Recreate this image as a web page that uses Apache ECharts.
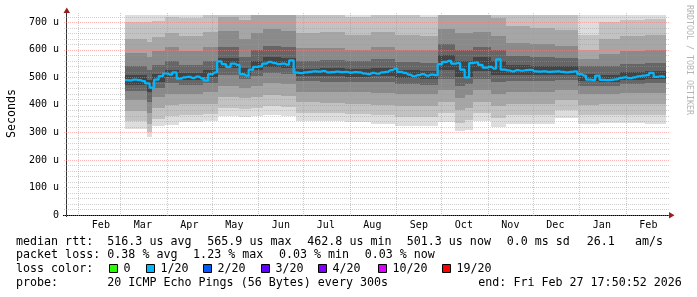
<!DOCTYPE html>
<html><head><meta charset="utf-8">
<script src="https://cdn.jsdelivr.net/npm/echarts@6/dist/echarts.min.js"></script>
<style>html,body{margin:0;padding:0;background:#fff}#c{width:697px;height:297px}</style>
</head><body><div id="c"></div>
<script>
// ---------- data ----------
const monthStarts = ['2025-02-01','2025-03-01','2025-04-01','2025-05-01','2025-06-01','2025-07-01','2025-08-01','2025-09-01','2025-10-01','2025-11-01','2025-12-01','2026-01-01','2026-02-01'];
const monthLabels = ['Feb','Mar','Apr','May','Jun','Jul','Aug','Sep','Oct','Nov','Dec','Jan','Feb'];
const yTickValues = [0,100,200,300,400,500,600,700];
const yTickLabels = ['0','100 u','200 u','300 u','400 u','500 u','600 u','700 u'];

const END_TIME = '2026-02-27T17:50:52Z';
const SPAN_DAYS = 400;
const DATA_START = '2025-03-04';
const MEDIAN_STEP_DAYS = 3;
// median rtt (us), one value every 3 days from DATA_START
const medianRtt = [490,489,492,490,486,478,463,492,505,514,
  510,518,495,500,502,498,503,496,488,512,
  518,558,548,538,550,545,512,506,528,538,
  540,550,556,552,548,550,546,562,517,515,
  518,520,522,521,523,518,519,521,519,520,
  517,519,518,514,512,516,513,518,520,526,
  532,520,516,510,504,508,512,506,510,508,
  548,556,560,550,552,528,500,552,554,545,
  535,538,532,565,528,525,522,526,524,526,
  527,522,521,522,520,521,522,520,518,520,
  522,512,506,492,490,506,491,490,491,493,
  498,500,497,500,504,506,508,516,502,504,
  501];

// smoke segments (day offsets from DATA_START)
const smokeEdgeDays = [0,15,18,27,36,52,62,76,84,92,104,114,130,147,164,180,197,209,220,227,232,244,254,270,287,302,316,330,347,360.74];
// smoke band edges (us), outer -> inner
const smokeLow1 = [312,285,322,328,338,340,358,355,360,362,360,342,340,337,330,322,324,338,305,310,340,318,330,330,352,332,335,333,330];
const smokeLow2 = [340,300,350,358,365,368,390,385,390,395,392,372,370,368,362,355,356,372,335,345,372,352,362,362,380,362,365,365,362];
const smokeLow3 = [378,330,388,398,402,405,430,425,430,435,432,410,408,405,400,395,396,412,380,390,412,395,402,402,418,400,402,405,402];
const smokeLow4 = [418,370,428,440,440,445,470,462,470,478,475,448,446,445,442,438,438,455,425,435,455,440,445,445,455,438,440,443,442];
const smokeLow5 = [452,410,462,478,472,480,510,495,505,515,512,485,484,482,482,475,474,495,470,475,495,482,485,485,490,470,470,475,478];
const smokeLow6 = [474,445,482,500,490,500,535,510,525,538,535,505,506,503,505,497,495,525,500,500,522,510,508,507,508,486,484,492,494];
const smokeHigh6 = [508,490,512,528,515,528,570,535,560,575,570,532,534,530,535,525,522,580,560,560,575,560,545,542,540,512,510,518,522];
const smokeHigh5 = [540,525,545,560,545,560,610,575,600,615,610,560,562,558,565,555,552,620,600,600,612,598,578,575,570,540,540,548,552];
const smokeHigh4 = [590,575,595,610,595,610,670,640,660,675,670,605,608,600,610,600,598,675,660,660,665,650,625,620,615,565,585,595,600];
const smokeHigh3 = [640,630,645,660,650,665,720,710,730,740,735,660,665,655,665,655,652,740,730,730,730,715,685,680,672,600,640,650,655];
const smokeHigh2 = [700,700,705,720,715,725,800,800,800,800,800,730,735,720,730,725,720,800,800,800,800,790,760,755,740,655,700,710,712];
const smokeHigh1 = [800,800,800,800,800,800,800,800,800,800,800,800,800,800,800,800,800,800,800,800,800,800,800,800,800,800,800,800,800];

const lossLabels = ['0','1/20','2/20','3/20','4/20','10/20','19/20'];
const lossColors = ['#26ff00','#00b8ff','#0059ff','#5e00ff','#7e00ff','#dd00ff','#ff0000'];

// ---------- build ----------
const DAY = 86400000;
const END_TS = Date.parse(END_TIME);
const START_TS = END_TS - SPAN_DAYS * DAY;
const D0 = Date.parse(DATA_START + 'T00:00:00Z');
const dayTs = d => D0 + d * DAY;
const YMAX = 726.5;
const G = {left: 66, top: 15, width: 600, height: 200};
const MONO = '"DejaVu Sans Mono", monospace';
const layerColors = ['#dddddd','#c2c2c2','#a6a6a6','#8a8a8a','#666666','#444444'];
const MGRID = 'rgba(255,120,120,0.55)';
const MINGRID = 'rgba(150,150,150,0.45)';

const lows = [smokeLow1,smokeLow2,smokeLow3,smokeLow4,smokeLow5,smokeLow6];
const highs = [smokeHigh1,smokeHigh2,smokeHigh3,smokeHigh4,smokeHigh5,smokeHigh6];
const smokeData = [];
for (let L = 0; L < 6; L++) {
  for (let s = 0; s < smokeEdgeDays.length - 1; s++) {
    smokeData.push([dayTs(smokeEdgeDays[s]), dayTs(smokeEdgeDays[s+1]), lows[L][s], highs[L][s], L]);
  }
}
const medianData = medianRtt.map((v, i) => [dayTs(i * MEDIAN_STEP_DAYS), v]);
const monthStartData = monthStarts.map(s => [Date.parse(s + 'T00:00:00Z'), 0]);
const monthLabelData = monthStarts.map((s, i) => [Date.parse(s + 'T00:00:00Z') + 15 * DAY, 0, i]);
const hgridData = [];
for (let v = 0; v <= 720; v += 20) hgridData.push([START_TS, v, v % 100 === 0 ? 1 : 0]);

function renderSmoke(params, api) {
  const cs = params.coordSys;
  const x0 = Math.round(api.coord([api.value(0), 0])[0]);
  const x1 = Math.round(api.coord([api.value(1), 0])[0]);
  let yLo = api.coord([api.value(0), api.value(2)])[1];
  let yHi = api.coord([api.value(0), api.value(3)])[1];
  yHi = Math.round(Math.max(yHi, cs.y));
  yLo = Math.round(Math.min(yLo, cs.y + cs.height));
  return {type: 'rect', shape: {x: x0, y: yHi, width: x1 - x0, height: yLo - yHi},
    style: {fill: layerColors[api.value(4)]}};
}
function renderHGrid(params, api) {
  const cs = params.coordSys;
  const y = Math.round(api.coord([api.value(0), api.value(1)])[1]) + 0.5;
  const major = api.value(2) === 1;
  return {type: 'line', shape: {x1: cs.x - 2, y1: y, x2: cs.x + cs.width + 3, y2: y},
    style: {stroke: major ? MGRID : MINGRID, lineWidth: 1, lineDash: [1, 1]}};
}
function renderVGrid(params, api) {
  const cs = params.coordSys;
  const x = Math.round(api.coord([api.value(0), 0])[0]) + 0.5;
  return {type: 'line', shape: {x1: x, y1: cs.y - 2, x2: x, y2: cs.y + cs.height + 2},
    style: {stroke: MGRID, lineWidth: 1, lineDash: [1, 1]}};
}
function renderMonthLabel(params, api) {
  const cs = params.coordSys;
  const x = api.coord([api.value(0), 0])[0];
  return {type: 'text', x: x, y: cs.y + cs.height + 10,
    style: {text: monthLabels[api.value(2)], font: '10px ' + MONO, fill: '#000', align: 'center', verticalAlign: 'middle'}};
}

const graphics = [];
const txt = (x, y, text, extra) => graphics.push(Object.assign({type: 'text', x: x, y: y, silent: true,
  style: {text: text, font: '11.66px ' + MONO, fill: '#000', align: 'left', verticalAlign: 'middle'}}, extra || {}));
// legend lines
txt(16, 241.5, 'median rtt:');
[['516.3 us avg',107.3],['565.9 us max',207.3],['462.8 us min',307.3],['501.3 us now',406.7],['0.0 ms sd',506.7],['26.1',586.7],['am/s',635]].forEach(p => txt(p[1], 241.5, p[0]));
txt(16, 255, 'packet loss:');
[['0.38 % avg',107.3],['1.23 % max',193.1],['0.03 % min',278.9],['0.03 % now',364.7]].forEach(p => txt(p[1], 255, p[0]));
txt(16, 269, 'loss color:');
const boxX = [108.5,146,203.3,261,318.3,377.7,442.3];
lossLabels.forEach((l, i) => {
  graphics.push({type: 'rect', silent: true, shape: {x: Math.round(boxX[i]) + 0.5, y: 264.5, width: 8, height: 8},
    style: {fill: lossColors[i], stroke: '#000', lineWidth: 1}});
  txt(Math.round(boxX[i]) + 14.5, 269, l);
});
txt(16, 282.5, 'probe:');
txt(107.3, 282.5, '20 ICMP Echo Pings (56 Bytes) every 300s');
txt(478.3, 282.5, 'end: Fri Feb 27 17:50:52 2026');
// axis title + watermark
graphics.push({type: 'text', x: 12, y: 113.5, rotation: Math.PI / 2, silent: true,
  style: {text: 'Seconds', font: '11.66px ' + MONO, fill: '#000', align: 'center', verticalAlign: 'middle'}});
graphics.push({type: 'text', x: 689, y: 60, rotation: -Math.PI / 2, silent: true,
  style: {text: 'RRDTOOL / TOBI OETIKER', font: '8.3px ' + MONO, fill: '#b4b4b4', align: 'center', verticalAlign: 'middle'}});
// axis extensions + arrows
graphics.push({type: 'line', silent: true, shape: {x1: 66.5, y1: 11, x2: 66.5, y2: 217}, style: {stroke: '#333', lineWidth: 1}});
graphics.push({type: 'line', silent: true, shape: {x1: 63, y1: 215.5, x2: 670, y2: 215.5}, style: {stroke: '#000', lineWidth: 1}});
graphics.push({type: 'polygon', silent: true, shape: {points: [[63.5, 13], [66.8, 7.5], [70, 13]]}, style: {fill: '#9a1c1c'}});
graphics.push({type: 'polygon', silent: true, shape: {points: [[669, 212], [674.5, 215.2], [669, 218.4]]}, style: {fill: '#9a1c1c'}});

const chart = echarts.init(document.getElementById('c'), null, {renderer: 'canvas'});
chart.setOption({
  animation: false,
  backgroundColor: '#ffffff',
  grid: Object.assign({containLabel: false, outerBoundsMode: 'none'}, G),
  xAxis: {type: 'time', min: START_TS, max: END_TS,
    axisLine: {show: false, onZero: false},
    axisTick: {show: false}, axisLabel: {show: false}, splitLine: {show: false}, minorSplitLine: {show: false}},
  yAxis: {type: 'value', min: 0, max: YMAX, interval: 100,
    axisLine: {show: false},
    axisTick: {show: false}, splitLine: {show: false},
    axisLabel: {margin: 7, fontFamily: '"DejaVu Sans Mono", monospace', fontSize: 10, color: '#000',
      formatter: v => { const i = yTickValues.indexOf(v); return i >= 0 ? yTickLabels[i] : ''; }}},
  series: [
    {type: 'custom', name: 'smoke', renderItem: renderSmoke, data: smokeData, z: 1, silent: true,
      encode: {x: [0, 1], y: [2, 3]}, clip: false},
    {type: 'custom', name: 'hgrid', renderItem: renderHGrid, data: hgridData, z: 3, silent: true,
      encode: {x: 0, y: 1}},
    {type: 'custom', name: 'vgrid', renderItem: renderVGrid, data: monthStartData, z: 3, silent: true,
      encode: {x: 0, y: 1}},
    {type: 'custom', name: 'months', renderItem: renderMonthLabel, data: monthLabelData, z: 3, silent: true,
      encode: {x: 0, y: 1}},
    {type: 'line', name: 'median', data: medianData, step: 'middle', showSymbol: false, symbol: 'none', z: 5, silent: true,
      lineStyle: {color: '#00b8ff', width: 2.2}}
  ],
  graphic: graphics
});
</script>
</body></html>
